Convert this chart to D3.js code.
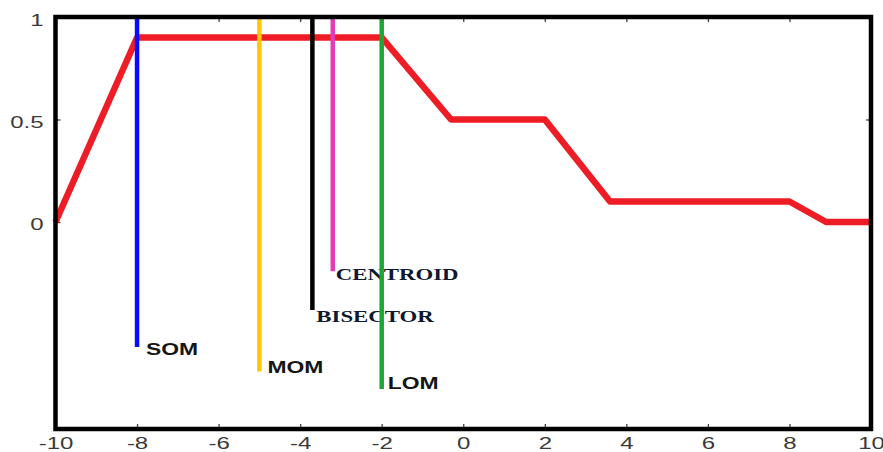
<!DOCTYPE html>
<html>
<head>
<meta charset="utf-8">
<script src="https://cdn.jsdelivr.net/npm/d3@7"></script>
<style>
  body { margin: 0; background: #fff; }
  svg { display: block; }
  .tick text { font-family: "Liberation Sans", Arial, sans-serif; font-size: 16px; fill: #3a3a3a; }
  .tick line { stroke: #444; stroke-width: 1.3; }
</style>
</head>
<body>
<svg width="883" height="452"></svg>
<script>
var svg = d3.select('svg');

// membership function (aggregated output)
var memberX = [-10, -8, -2, -0.3, 2, 3.6, 8, 8.9, 10];
var memberY = [0, 0.9, 0.9, 0.5, 0.5, 0.1, 0.1, 0, 0];

// defuzzification results
var methods = ['SOM', 'MOM', 'BISECTOR', 'CENTROID', 'LOM'];
var methodX = [-8, -5, -3.7, -3.2, -2];
var methodYEnd = [-0.61, -0.73, -0.43, -0.24, -0.815];
var methodColors = ['#0a0aff', '#ffc800', '#000000', '#e23cba', '#1aa832'];

// label placement relative to line end, in px
var labelDx = [9, 8, 4, 3, 6];
var labelDy = [8, 1, 12, 9, 0];
var labelSerif = [false, false, true, true, false];

var xTicks = [-10, -8, -6, -4, -2, 0, 2, 4, 6, 8, 10];
var yTicks = [0, 0.5, 1];

// layout
var box = {l: 55.5, r: 871, t: 17, b: 429};
var xScale = d3.scaleLinear().domain([-10, 10]).range([box.l, box.r]);
var yScale = d3.scaleLinear().domain([-1.01, 1]).range([box.b, box.t]);

// stretched-looking text like the source picture
function stretch(sel, k) {
    sel.each(function() {
        var w = this.getComputedTextLength();
        d3.select(this).attr('textLength', w * k).attr('lengthAdjust', 'spacingAndGlyphs');
    });
}

// plain hyphen for negatives, as in the source
var plain = function(d) { return String(d); };

// axes with inward ticks
var xAxisB = svg.append('g')
    .attr('transform', 'translate(0,' + box.b + ')')
    .call(d3.axisBottom(xScale).tickValues(xTicks).tickSizeInner(-5).tickSizeOuter(0).tickPadding(9).tickFormat(plain));
svg.append('g')
    .attr('transform', 'translate(0,' + box.t + ')')
    .call(d3.axisTop(xScale).tickValues(xTicks).tickSizeInner(-5).tickSizeOuter(0).tickFormat(''));
var yAxisL = svg.append('g')
    .attr('transform', 'translate(' + box.l + ',0)')
    .call(d3.axisLeft(yScale).tickValues(yTicks).tickSizeInner(-5).tickSizeOuter(0).tickPadding(12).tickFormat(plain));
svg.append('g')
    .attr('transform', 'translate(' + box.r + ',0)')
    .call(d3.axisRight(yScale).tickValues(yTicks).tickSizeInner(-5).tickSizeOuter(0).tickFormat(''));

svg.selectAll('.domain').remove();
stretch(xAxisB.selectAll('text'), 1.5);
stretch(yAxisL.selectAll('text'), 1.5);
yAxisL.selectAll('text').attr('dy', '0.5em');

// membership curve
var line = d3.line()
    .x(function(d) { return xScale(d[0]); })
    .y(function(d) { return yScale(d[1]); });

svg.append('path')
    .datum(d3.zip(memberX, memberY))
    .attr('d', line)
    .attr('fill', 'none')
    .attr('stroke', '#ee1c25')
    .attr('stroke-width', 6.5)
    .attr('stroke-linejoin', 'round');

// labels
var labels = svg.selectAll('.mlabel')
    .data(methods)
    .enter()
    .append('text')
    .attr('class', 'mlabel')
    .attr('x', function(d, i) { return xScale(methodX[i]) + labelDx[i]; })
    .attr('y', function(d, i) { return yScale(methodYEnd[i]) + labelDy[i]; })
    .style('font-family', function(d, i) { return labelSerif[i] ? '"Liberation Serif", "Times New Roman", serif' : '"Liberation Sans", Arial, sans-serif'; })
    .style('font-size', function(d, i) { return labelSerif[i] ? '17px' : '16px'; })
    .style('font-weight', 'bold')
    .style('fill', function(d, i) { return labelSerif[i] ? '#0e1830' : '#151515'; })
    .text(function(d) { return d; });
labels.each(function(d, i) {
    stretch(d3.select(this), labelSerif[i] ? 1.34 : 1.43);
});

// vertical defuzzification lines
svg.selectAll('.mline')
    .data(methods)
    .enter()
    .append('line')
    .attr('class', 'mline')
    .attr('x1', function(d, i) { return xScale(methodX[i]); })
    .attr('x2', function(d, i) { return xScale(methodX[i]); })
    .attr('y1', yScale(1))
    .attr('y2', function(d, i) { return yScale(methodYEnd[i]); })
    .attr('stroke', function(d, i) { return methodColors[i]; })
    .attr('stroke-width', 4.5);

// frame
svg.append('rect')
    .attr('x', box.l)
    .attr('y', box.t)
    .attr('width', box.r - box.l)
    .attr('height', box.b - box.t)
    .attr('fill', 'none')
    .attr('stroke', '#000')
    .attr('stroke-width', 4.5);
</script>
</body>
</html>
